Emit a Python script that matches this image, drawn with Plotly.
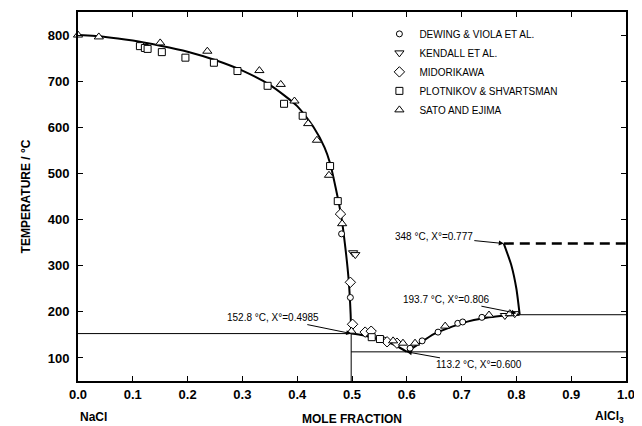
import plotly.graph_objects as go

# ---- experimental data (mole fraction AlCl3, temperature °C) ----
dewing_x = [0.481, 0.497, 0.558, 0.606, 0.628, 0.657, 0.693, 0.702, 0.737]
dewing_T = [369, 231, 139, 121, 137, 156, 175, 178, 188]

kendall_x = [0.502, 0.506, 0.779, 0.797]
kendall_T = [328, 324, 192, 196]

midori_x = [0.479, 0.497, 0.501, 0.524, 0.535, 0.564, 0.582]
midori_T = [412, 264, 173, 156, 158, 135, 132]

plot_x = [0.113, 0.122, 0.127, 0.153, 0.196, 0.248, 0.291, 0.346, 0.376, 0.410,
          0.460, 0.474, 0.536, 0.551]
plot_T = [776, 772, 770, 763, 751, 740, 722, 690, 651, 625, 516, 440, 145, 141]

sato_x = [0.0, 0.038, 0.150, 0.236, 0.331, 0.370, 0.395, 0.420, 0.436, 0.458,
          0.482, 0.499, 0.575, 0.593, 0.615, 0.670, 0.750, 0.788]
sato_T = [800, 796, 783, 765, 723, 693, 657, 608, 572, 496, 391, 158, 137, 132,
          132, 169, 193, 196]

# ---- phase boundary curves ----
liq1_x = [0.0, 0.05, 0.10, 0.15, 0.20, 0.25, 0.30, 0.35, 0.40, 0.43, 0.45, 0.46,
          0.47, 0.48, 0.487, 0.494, 0.4975, 0.4985]
liq1_T = [800, 796, 788, 777, 764, 746, 723, 692, 646, 600, 556, 522,
          470, 410, 348, 268, 195, 152.8]

liq2_x = [0.4985, 0.52, 0.55, 0.58, 0.60]
liq2_T = [152.8, 149, 140, 127, 113.2]

liq3_x = [0.60, 0.62, 0.65, 0.70, 0.75, 0.78, 0.806]
liq3_T = [113.2, 129, 152, 175, 188, 192, 193.7]

liq4_x = [0.806, 0.800, 0.791, 0.777]
liq4_T = [193.7, 250, 300, 348]

dash_x = [0.777, 1.0]
dash_T = [348, 348]

eut1_x = [0.0, 0.4985]
eut1_T = [152.8, 152.8]
eut2_x = [0.4985, 1.0]
eut2_T = [113.2, 113.2]
per_x = [0.806, 1.0]
per_T = [193.7, 193.7]
vert_x = [0.4985, 0.4985]
vert_T = [50, 152.8]

fig = go.Figure()

def line(x, y, w, dash="solid"):
    fig.add_trace(go.Scatter(x=x, y=y, mode="lines", showlegend=False,
                             line=dict(color="black", width=w, dash=dash,
                                       shape="spline", smoothing=0.6),
                             hoverinfo="skip"))

for lx, ly in [(eut1_x, eut1_T), (eut2_x, eut2_T), (per_x, per_T), (vert_x, vert_T)]:
    fig.add_trace(go.Scatter(x=lx, y=ly, mode="lines", showlegend=False,
                             line=dict(color="black", width=1), hoverinfo="skip"))
line(liq1_x, liq1_T, 2)
line(liq2_x, liq2_T, 2)
line(liq3_x, liq3_T, 2)
line(liq4_x, liq4_T, 2)
fig.add_trace(go.Scatter(x=dash_x, y=dash_T, mode="lines", showlegend=False,
                         line=dict(color="black", width=2.5, dash="10px,6px")))

series = [
    ("DEWING & VIOLA ET AL.", dewing_x, dewing_T, "circle", 6),
    ("KENDALL ET AL.", kendall_x, kendall_T, "triangle-down", 8),
    ("MIDORIKAWA", midori_x, midori_T, "diamond", 8),
    ("PLOTNIKOV & SHVARTSMAN", plot_x, plot_T, "square", 7),
    ("SATO AND EJIMA", sato_x, sato_T, "triangle-up", 8),
]
for name, sx, sy, sym, sz in series:
    fig.add_trace(go.Scatter(x=sx, y=sy, mode="markers", name=name, cliponaxis=False,
                             marker=dict(symbol=sym, size=sz, color="white",
                                         line=dict(color="black", width=1))))

ann_font = dict(family="Liberation Sans, Arial, sans-serif", size=10, color="black")
annots = [
    ("348 °C, X°=0.777", 0.777, 348, -70, -7),
    ("193.7 °C, X°=0.806", 0.80, 197, -70, -14),
    ("152.8 °C, X°=0.4985", 0.4985, 152.8, -78, -16),
    ("113.2 °C, X°=0.600", 0.600, 113.2, 72, 13),
]
for txt, ax_, ay_, dx, dy in annots:
    fig.add_annotation(x=ax_, y=ay_, text=txt, showarrow=True, ax=dx, ay=dy,
                       arrowhead=2, arrowsize=1, arrowwidth=1, arrowcolor="black",
                       font=ann_font)

lab_font = dict(family="Liberation Sans, Arial, sans-serif", size=12, color="black",
                weight="bold")
fig.add_annotation(x=0, y=-0.097, xref="paper", yref="paper", text="NaCl",
                   showarrow=False, xanchor="left", yanchor="middle", font=lab_font)
fig.add_annotation(x=1, y=-0.097, xref="paper", yref="paper", text="AlCl<sub>3</sub>",
                   showarrow=False, xanchor="right", yanchor="middle", font=lab_font)

tick_font = dict(family="Liberation Sans, Arial, sans-serif", size=13, color="black",
                 weight="bold")
# page body has an 8px margin: figure is sized/offset to compensate
fig.update_layout(
    width=634, height=418,
    margin=dict(l=70, r=16, t=2, b=44),
    paper_bgcolor="white", plot_bgcolor="white",
    xaxis=dict(range=[0, 1], tick0=0, dtick=0.1, tickformat=".1f",
               ticks="inside", ticklen=5, tickcolor="black", mirror="ticks",
               showline=True, linecolor="black", linewidth=2, showgrid=False,
               zeroline=False, tickfont=tick_font,
               title=dict(text="MOLE FRACTION", font=lab_font, standoff=14)),
    yaxis=dict(range=[50, 850], tickvals=[100, 200, 300, 400, 500, 600, 700, 800],
               ticks="inside", ticklen=5, tickcolor="black", mirror="ticks",
               showline=True, linecolor="black", linewidth=2, showgrid=False,
               zeroline=False, tickfont=tick_font, ticklabelstandoff=4,
               title=dict(text="TEMPERATURE / °C", font=lab_font, standoff=14)),
    legend=dict(x=0.55, y=0.98, xanchor="left", yanchor="top",
                bgcolor="rgba(0,0,0,0)", tracegroupgap=0,
                font=dict(family="Liberation Sans, Arial, sans-serif", size=10,
                          color="black")),
    showlegend=True,
)

fig.write_html("out.html")
